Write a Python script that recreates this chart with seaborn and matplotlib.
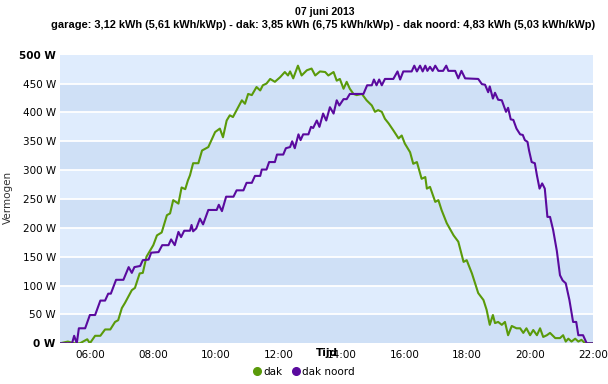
import matplotlib
matplotlib.use("Agg")
import matplotlib.pyplot as plt
import matplotlib.dates as mdates
from matplotlib.lines import Line2D
import seaborn as sns
import pandas as pd

title = "07 juni 2013"
subtitle = "garage: 3,12 kWh (5,61 kWh/kWp) - dak: 3,85 kWh (6,75 kWh/kWp) - dak noord: 4,83 kWh (5,03 kWh/kWp)"
series_names = ["dak", "dak noord"]
series_colors = ["#5a9a0a", "#5a0a9e"]
y_ticks = [0, 50, 100, 150, 200, 250, 300, 350, 400, 450, 500]
y_ticklabels = [f"{v} W" for v in y_ticks]
x_ticklabels = ["06:00", "08:00", "10:00", "12:00", "14:00", "16:00", "18:00", "20:00", "22:00"]

dak_time = ["05:03", "05:18", "05:31", "05:41", "05:55", "06:00", "06:10", "06:20", "06:29", "06:39",
            "06:48", "06:54", "07:01", "07:07", "07:20", "07:26", "07:35", "07:41", "07:48", "08:01",
            "08:08", "08:17", "08:27", "08:33", "08:39", "08:49", "08:55", "09:02", "09:07", "09:11",
            "09:17", "09:27", "09:34", "09:46", "09:59", "10:08", "10:14", "10:21", "10:27", "10:33",
            "10:43", "10:50", "10:56", "11:02", "11:09", "11:18", "11:25", "11:30", "11:37", "11:44",
            "11:53", "12:03", "12:12", "12:18", "12:22", "12:28", "12:37", "12:44", "12:54", "13:03",
            "13:10", "13:19", "13:29", "13:35", "13:45", "13:51", "13:57", "14:04", "14:10", "14:16",
            "14:23", "14:29", "14:39", "14:48", "14:58", "15:04", "15:10", "15:17", "15:23", "15:30",
            "15:39", "15:49", "15:55", "16:01", "16:11", "16:17", "16:24", "16:33", "16:40", "16:43",
            "16:49", "16:59", "17:05", "17:11", "17:21", "17:34", "17:43", "17:53", "17:59", "18:09",
            "18:21", "18:31", "18:37", "18:43", "18:49", "18:53", "18:59", "19:06", "19:12", "19:18",
            "19:25", "19:34", "19:41", "19:47", "19:53", "20:00", "20:06", "20:13", "20:19", "20:25",
            "20:32", "20:38", "20:48", "20:57", "21:03", "21:08", "21:13", "21:19", "21:26", "21:32",
            "21:38", "21:45", "22:00"]
dak_power = [0, 3, 0, 0, 7, 0, 13, 13, 24, 24,
             37, 40, 61, 70, 92, 96, 121, 122, 150, 170,
             187, 192, 222, 225, 248, 242, 270, 267, 282, 291,
             312, 312, 334, 340, 366, 372, 357, 386, 395, 392,
             409, 421, 415, 432, 430, 444, 438, 447, 450, 458,
             453, 461, 470, 464, 471, 459, 481, 464, 473, 476,
             464, 471, 470, 464, 470, 455, 458, 441, 453, 441,
             432, 430, 432, 421, 412, 401, 404, 401, 389, 381,
             369, 355, 360, 346, 331, 311, 314, 285, 288, 268,
             271, 245, 248, 231, 208, 187, 176, 141, 144, 121,
             87, 75, 58, 32, 49, 35, 37, 32, 37, 14,
             30, 26, 26, 18, 26, 14, 23, 14, 26, 11,
             14, 18, 9, 9, 14, 3, 8, 3, 8, 3,
             6, 0, 0]

noord_time = ["05:03", "05:26", "05:30", "05:35", "05:39", "05:51", "06:00", "06:10", "06:20", "06:29",
              "06:35", "06:40", "06:50", "07:04", "07:14", "07:20", "07:25", "07:36", "07:41", "07:52",
              "07:57", "08:11", "08:18", "08:30", "08:35", "08:42", "08:49", "08:54", "09:00", "09:11",
              "09:14", "09:17", "09:23", "09:30", "09:36", "09:46", "10:02", "10:06", "10:12", "10:20",
              "10:34", "10:40", "10:53", "10:59", "11:09", "11:15", "11:25", "11:28", "11:37", "11:42",
              "11:53", "11:57", "12:09", "12:14", "12:22", "12:26", "12:31", "12:38", "12:42", "12:47",
              "12:57", "13:02", "13:06", "13:13", "13:18", "13:25", "13:31", "13:38", "13:45", "13:51",
              "13:56", "14:04", "14:10", "14:16", "14:42", "14:49", "14:58", "15:02", "15:07", "15:12",
              "15:17", "15:23", "15:39", "15:47", "15:52", "15:58", "16:14", "16:19", "16:24", "16:30",
              "16:35", "16:40", "16:44", "16:49", "16:54", "16:59", "17:05", "17:14", "17:20", "17:24",
              "17:37", "17:43", "17:49", "17:56", "18:21", "18:28", "18:34", "18:40", "18:43", "18:49",
              "18:53", "18:59", "19:06", "19:14", "19:18", "19:23", "19:28", "19:34", "19:41", "19:46",
              "19:50", "19:55", "19:58", "20:03", "20:09", "20:13", "20:18", "20:23", "20:28", "20:33",
              "20:38", "20:44", "20:51", "20:57", "21:02", "21:08", "21:15", "21:22", "21:28", "21:32",
              "21:41", "21:48", "22:00"]
noord_power = [0, 0, 13, 0, 26, 26, 49, 49, 74, 74,
               86, 86, 110, 110, 132, 122, 132, 134, 144, 145,
               157, 158, 170, 170, 180, 170, 193, 184, 195, 195,
               205, 194, 199, 216, 206, 231, 231, 240, 229, 254,
               254, 265, 265, 278, 278, 290, 290, 301, 301, 314,
               314, 327, 327, 338, 340, 350, 338, 362, 352, 362,
               362, 375, 373, 386, 375, 398, 386, 409, 398, 421,
               412, 423, 423, 432, 432, 447, 447, 457, 447, 457,
               447, 458, 458, 471, 457, 471, 471, 481, 471, 481,
               471, 481, 472, 479, 472, 481, 472, 472, 481, 472,
               472, 459, 472, 459, 458, 449, 448, 435, 445, 424,
               434, 422, 421, 401, 408, 388, 387, 372, 362, 361,
               352, 349, 334, 314, 312, 291, 268, 277, 268, 219,
               219, 196, 160, 118, 109, 104, 75, 37, 37, 14,
               14, 0, 0]

day = "2013-06-07 "
df = pd.concat([
    pd.DataFrame({"Tijd": pd.to_datetime([day + t for t in dak_time]), "Vermogen": dak_power, "serie": series_names[0]}),
    pd.DataFrame({"Tijd": pd.to_datetime([day + t for t in noord_time]), "Vermogen": noord_power, "serie": series_names[1]}),
])

fig = plt.figure(figsize=(6.08, 3.84), dpi=100)
ax = fig.add_axes([60 / 608, 1 - 343.3 / 384, (593 - 60) / 608, (343.3 - 54.7) / 384])

light, dark = "#dfecfd", "#cfe0f6"
for i in range(10):
    ax.axhspan(i * 50, (i + 1) * 50, color=dark if i % 2 == 0 else light, lw=0, zorder=0)
for v in y_ticks[1:-1]:
    ax.axhline(v, color="white", lw=1.3, zorder=1)

sns.lineplot(data=df, x="Tijd", y="Vermogen", hue="serie", palette=series_colors,
             hue_order=series_names, lw=1.5, ax=ax, legend=False, zorder=3, estimator=None)

ax.set_xlim(pd.Timestamp(day + "05:03"), pd.Timestamp(day + "22:00"))
ax.set_ylim(0, 500)
ax.set_xticks(pd.to_datetime([day + t for t in x_ticklabels]))
ax.set_xticklabels(x_ticklabels, fontsize=7.5)
ax.set_yticks(y_ticks)
ax.set_yticklabels(y_ticklabels, fontsize=7.5)
for lbl in (ax.get_yticklabels()[0], ax.get_yticklabels()[-1]):
    lbl.set_fontweight("bold")
ax.tick_params(length=0, pad=3)
ax.tick_params(axis="x", pad=5)
for s in ax.spines.values():
    s.set_visible(False)

ax.set_xlabel("Tijd", fontsize=7.5, fontweight="bold", labelpad=-9)
ax.set_ylabel("")
fig.text(8 / 608, 1 - 197 / 384, "Vermogen", rotation=90, fontsize=7.5, color="#333333",
         ha="center", va="center")

fig.text(325 / 608, 1 - 12 / 384, title, fontsize=7.6, fontweight="bold", ha="center", va="center",
         family="Liberation Sans")
fig.text(323 / 608, 1 - 25 / 384, subtitle, fontsize=7.9, fontweight="bold", ha="center", va="center",
         family="Liberation Sans")

handles = [Line2D([], [], ls="", marker="o", ms=5.5, color=c) for c in series_colors]
fig.legend(handles, series_names, loc="center", bbox_to_anchor=(303 / 608, 1 - 372 / 384),
           ncol=2, frameon=False, fontsize=7.5, handletextpad=0.1, columnspacing=0.8,
           handlelength=1.0)

fig.savefig("out.png", dpi=100)
